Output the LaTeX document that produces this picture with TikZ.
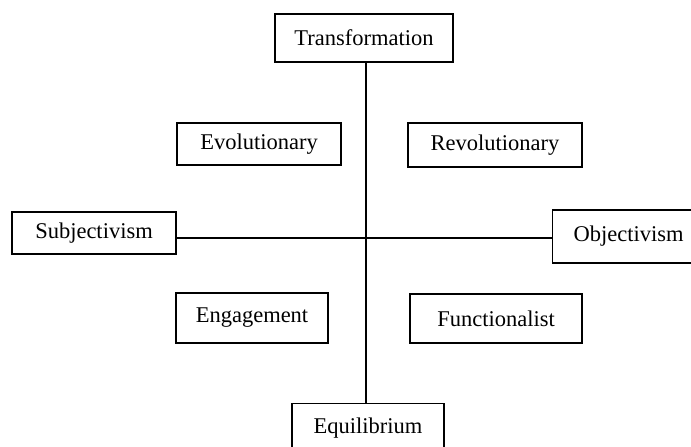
\documentclass[tikz,border=0pt]{standalone}
\usepackage{fontspec}
\setmainfont{Liberation Serif}
\begin{document}
\begin{tikzpicture}[x=1pt,y=-1pt,
  box/.style={draw,line width=1.3pt,rectangle,inner sep=0pt,
    font=\fontsize{22.5}{27}\selectfont},
  conn/.style={line width=1.3pt}]
\useasboundingbox (0,0) rectangle (691,447);
\node[box,minimum width=178pt,minimum height=48pt] (T) at (364,38) {Transformation};
\node[box,minimum width=164pt,minimum height=42pt] (Ev) at (259,144) {Evolutionary};
\node[box,minimum width=174pt,minimum height=44pt] (Rv) at (495,145) {Revolutionary};
\node[box,minimum width=164pt,minimum height=42pt] (S) at (94,233) {Subjectivism};
\node[box,minimum width=148pt,minimum height=53pt,anchor=west] (O) at (552,236.5) {\hspace*{21pt}Objectivism\hspace*{21pt}};
\node[box,minimum width=152pt,minimum height=50pt] (En) at (252,318) {Engagement};
\node[box,minimum width=172pt,minimum height=49pt] (F) at (496,318.5) {Functionalist};
\node[box,minimum width=152pt,minimum height=50pt,anchor=north] (Eq) at (368,403) {};
\node[font=\fontsize{22.5}{27}\selectfont] at (368,428) {Equilibrium};
\coordinate (ax) at (366,238);
\draw[conn] (ax |- T.south) -- (ax |- Eq.north);
\draw[conn] (S.east |- ax) -- (O.west |- ax);
\end{tikzpicture}
\end{document}
